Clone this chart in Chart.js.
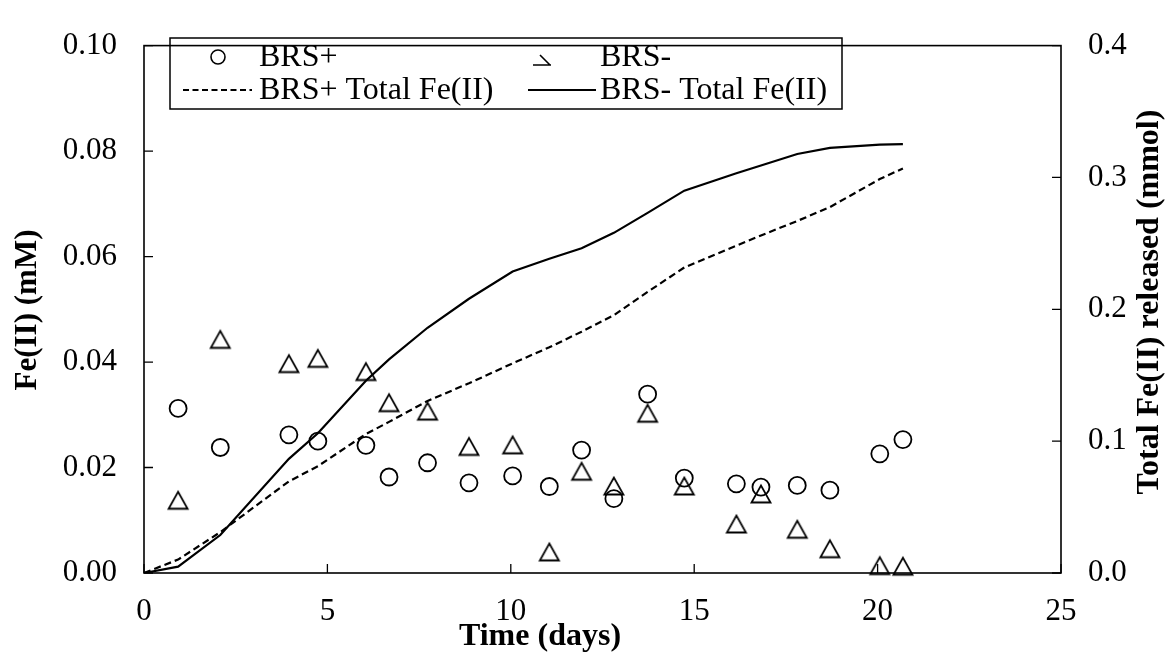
<!DOCTYPE html>
<html>
<head>
<meta charset="utf-8">
<script src="https://cdn.jsdelivr.net/npm/chart.js@4.4.1/dist/chart.umd.min.js"></script>
<style>
  html, body { margin: 0; padding: 0; background: #fff; }
  #wrap { width: 1174px; height: 657px; position: relative; }
</style>
</head>
<body>
<div id="wrap"><canvas id="c" width="1174" height="657"></canvas></div>
<script>
// ---- data ----
const days = [0.93, 2.08, 3.95, 4.74, 6.05, 6.68, 7.73, 8.86, 10.05, 11.05, 11.93, 12.81, 13.73, 14.73, 16.15, 16.82, 17.81, 18.70, 20.06, 20.69];
const brsPlus = [0.0312, 0.0238, 0.0262, 0.0250, 0.0242, 0.0182, 0.0209, 0.0171, 0.0184, 0.0164, 0.0233, 0.0141, 0.0339, 0.0180, 0.0169, 0.0163, 0.0166, 0.0157, 0.0226, 0.0253];
const brsMinus = [0.0138, 0.0443, 0.0397, 0.0407, 0.0382, 0.0323, 0.0307, 0.0240, 0.0243, 0.0040, 0.0193, 0.0165, 0.0303, 0.0165, 0.0093, 0.0150, 0.0083, 0.0046, 0.0014, 0.0013];
const totalDays = [0, 0.93, 2.08, 3.95, 4.74, 6.05, 6.68, 7.73, 8.86, 10.05, 11.05, 11.93, 12.81, 13.73, 14.73, 16.15, 16.82, 17.81, 18.70, 20.06, 20.69];
const brsPlusTotal = [0, 0.0102, 0.0310, 0.0695, 0.0810, 0.1054, 0.1146, 0.1305, 0.1439, 0.1590, 0.1712, 0.1830, 0.1955, 0.2132, 0.2317, 0.2483, 0.2560, 0.2670, 0.2775, 0.2988, 0.3068];
const brsMinusTotal = [0, 0.0048, 0.0288, 0.0866, 0.1060, 0.1458, 0.1620, 0.1860, 0.2080, 0.2287, 0.2383, 0.2463, 0.2580, 0.2731, 0.2900, 0.3032, 0.3091, 0.3178, 0.3224, 0.3249, 0.3253];
const xTickLabels = ['0', '5', '10', '15', '20', '25'];
const leftTickLabels = ['0.00', '0.02', '0.04', '0.06', '0.08', '0.10'];
const rightTickLabels = ['0.0', '0.1', '0.2', '0.3', '0.4'];
const seriesNames = ['BRS+', 'BRS-', 'BRS+ Total Fe(II)', 'BRS- Total Fe(II)'];
const xTitle = 'Time (days)';
const leftTitle = 'Fe(II) (mM)';
const rightTitle = 'Total Fe(II) released (mmol)';

const SERIF = '"Liberation Serif", "Times New Roman", serif';
const TICK_FONT = 31;
const LEG_FONT = 32;
const TITLE_FONT = 31;
const RTITLE_FONT = 32;
const XTITLE_FONT = 32;

// triangle marker centered on its bounding box
function makeTriangle() {
  const c = document.createElement('canvas');
  c.width = 24; c.height = 22;
  const g = c.getContext('2d');
  g.strokeStyle = '#000';
  g.lineWidth = 1.8;
  g.lineJoin = 'miter';
  g.beginPath();
  g.moveTo(2.5, 19.5);
  g.lineTo(21.5, 19.5);
  g.lineTo(12, 2.5);
  g.closePath();
  g.stroke();
  return c;
}
const triImg = makeTriangle();

const toXY = (xs, ys) => xs.map((x, i) => ({ x: x, y: ys[i] }));

const framePlugin = {
  id: 'frame',
  afterDraw(chart) {
    const { ctx, chartArea: a, scales } = chart;
    ctx.save();
    ctx.strokeStyle = '#000';
    ctx.lineWidth = 1.6;
    ctx.strokeRect(a.left, a.top, a.right - a.left, a.bottom - a.top);
    ctx.lineWidth = 1.3;
    const TL = 9;
    ctx.beginPath();
    scales.x.ticks.forEach(t => {
      const px = scales.x.getPixelForValue(t.value);
      ctx.moveTo(px, a.bottom); ctx.lineTo(px, a.bottom - TL);
    });
    scales.y.ticks.forEach(t => {
      const py = scales.y.getPixelForValue(t.value);
      ctx.moveTo(a.left, py); ctx.lineTo(a.left + TL, py);
    });
    scales.y2.ticks.forEach(t => {
      const py = scales.y2.getPixelForValue(t.value);
      ctx.moveTo(a.right, py); ctx.lineTo(a.right - TL, py);
    });
    ctx.stroke();

    // axis titles
    ctx.fillStyle = '#000';
    ctx.textAlign = 'center';
    ctx.textBaseline = 'middle';
    ctx.font = 'bold ' + XTITLE_FONT + 'px ' + SERIF;
    ctx.fillText(xTitle, 540, 637);
    ctx.font = 'bold ' + TITLE_FONT + 'px ' + SERIF;
    ctx.save();
    ctx.translate(28, 310);
    ctx.rotate(-Math.PI / 2);
    ctx.fillText(leftTitle, 0, 0);
    ctx.restore();
    ctx.save();
    ctx.font = 'bold ' + RTITLE_FONT + 'px ' + SERIF;
    ctx.translate(1150, 302);
    ctx.rotate(-Math.PI / 2);
    ctx.fillText(rightTitle, 0, 0);
    ctx.restore();

    // legend box
    ctx.lineWidth = 1.5;
    ctx.strokeRect(170, 38, 672, 71);
    ctx.font = LEG_FONT + 'px ' + SERIF;
    ctx.textAlign = 'left';
    ctx.textBaseline = 'middle';
    const r1 = 57, r2 = 90;
    // circle
    ctx.lineWidth = 1.6;
    ctx.beginPath();
    ctx.arc(218, r1, 7, 0, Math.PI * 2);
    ctx.stroke();
    ctx.fillText(seriesNames[0], 259, r1 + 1);
    // clipped triangle glyph as in the reference legend
    ctx.beginPath();
    ctx.moveTo(540, r1 - 2);
    ctx.lineTo(550, r1 + 8);
    ctx.moveTo(533, r1 + 8);
    ctx.lineTo(551, r1 + 8);
    ctx.stroke();
    ctx.fillText(seriesNames[1], 600, r1 + 1);
    // dashed
    ctx.lineWidth = 2;
    ctx.setLineDash([6, 3.5]);
    ctx.beginPath();
    ctx.moveTo(183, r2); ctx.lineTo(252, r2);
    ctx.stroke();
    ctx.setLineDash([]);
    ctx.fillText(seriesNames[2], 259, r2 + 1);
    ctx.beginPath();
    ctx.moveTo(528, r2); ctx.lineTo(596, r2);
    ctx.stroke();
    ctx.fillText(seriesNames[3], 600, r2 + 1);
    ctx.restore();
  }
};

new Chart(document.getElementById('c'), {
  type: 'scatter',
  data: {
    datasets: [
      {
        label: seriesNames[0],
        data: toXY(days, brsPlus),
        yAxisID: 'y',
        pointStyle: 'circle',
        pointRadius: 8.5,
        pointHoverRadius: 8.5,
        borderWidth: 1.8,
        borderColor: '#000',
        backgroundColor: 'rgba(0,0,0,0)',
        showLine: false,
        clip: false
      },
      {
        label: seriesNames[1],
        data: toXY(days, brsMinus),
        yAxisID: 'y',
        pointStyle: triImg,
        pointRadius: 10,
        borderColor: '#000',
        backgroundColor: 'rgba(0,0,0,0)',
        showLine: false,
        clip: false
      },
      {
        label: seriesNames[2],
        data: toXY(totalDays, brsPlusTotal),
        yAxisID: 'y2',
        showLine: true,
        pointRadius: 0,
        borderColor: '#000',
        borderWidth: 2.2,
        borderDash: [7, 4],
        tension: 0,
        fill: false
      },
      {
        label: seriesNames[3],
        data: toXY(totalDays, brsMinusTotal),
        yAxisID: 'y2',
        showLine: true,
        pointRadius: 0,
        borderColor: '#000',
        borderWidth: 2.2,
        tension: 0,
        fill: false
      }
    ]
  },
  options: {
    responsive: false,
    animation: false,
    events: [],
    layout: { padding: { top: 27, left: 0, right: 0, bottom: 0 } },
    plugins: {
      legend: { display: false },
      tooltip: { enabled: false },
      title: { display: false }
    },
    scales: {
      x: {
        type: 'linear',
        min: 0, max: 25,
        ticks: {
          stepSize: 5,
          color: '#000',
          font: { family: SERIF, size: TICK_FONT },
          padding: 20,
          maxRotation: 0,
          callback: (v, i) => xTickLabels[i]
        },
        grid: { display: false, drawTicks: false },
        border: { display: false },
        afterFit: s => { s.height = 84; }
      },
      y: {
        type: 'linear',
        position: 'left',
        min: 0, max: 0.1,
        ticks: {
          stepSize: 0.02,
          color: '#000',
          font: { family: SERIF, size: TICK_FONT },
          padding: 27,
          callback: (v, i) => leftTickLabels[i]
        },
        grid: { display: false, drawTicks: false },
        border: { display: false },
        afterFit: s => { s.width = 144; }
      },
      y2: {
        type: 'linear',
        position: 'right',
        min: 0, max: 0.4,
        ticks: {
          stepSize: 0.1,
          color: '#000',
          font: { family: SERIF, size: TICK_FONT },
          padding: 27,
          callback: (v, i) => rightTickLabels[i]
        },
        grid: { display: false, drawTicks: false },
        border: { display: false },
        afterFit: s => { s.width = 113; }
      }
    }
  },
  plugins: [framePlugin]
});
</script>
</body>
</html>
